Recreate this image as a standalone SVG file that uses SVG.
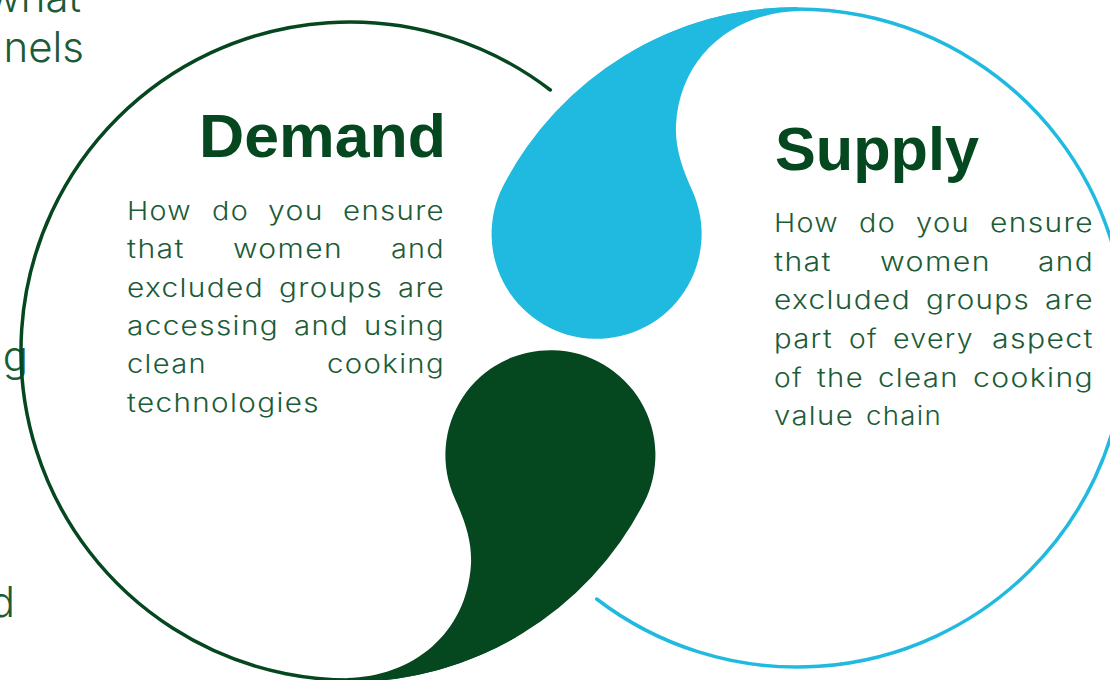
<svg xmlns="http://www.w3.org/2000/svg" width="1110" height="680" viewBox="0 0 1110 680">
  <style>
    .body { font-family: Inter, "Liberation Sans", sans-serif; font-weight: 300; font-size: 26px; letter-spacing: 1.2px; fill: #1b5c37; }
    .side { font-family: Inter, "Liberation Sans", sans-serif; font-weight: 300; font-size: 42px; fill: #1b5c37; }
    .title { font-family: "Liberation Sans", Arial, sans-serif; font-weight: 700; font-size: 62px; fill: #05471f; }
    .ring { fill: none; stroke-width: 3.5; stroke-linecap: round; }
    .ring-blue { stroke: #20bae0; }
    .ring-green { stroke: #05471f; }
    .drop-blue { fill: #20bae0; }
    .drop-green { fill: #05471f; }
  </style>
  <defs>
    <!-- open ring: starts low-left, runs round the bottom, right and top, ends under the drop tail -->
    <path id="ring" d="M 596.7 599 A 329 329 0 1 0 632.5 53.1"/>
    <!-- drop: tail follows the ring outward, bulb at the lower end, S-curve back to the top -->
    <path id="drop" d="M 797 7 A 331 331 0 0 0 503.3 185.7 A 105 105 0 1 0 692 190 C 682 168 675 148 676 125 C 680 55 735 12 800 11 Z"/>
  </defs>

  <!-- paragraph fragments running in from the left edge -->
  <g id="side-text">
    <text class="side" x="81" y="12" text-anchor="end">what</text>
    <text class="side" x="84" y="62" text-anchor="end">nels</text>
    <text class="side" x="28" y="371" text-anchor="end">ng</text>
    <text class="side" x="15" y="617" text-anchor="end">d</text>
  </g>

  <g id="supply">
    <use href="#ring" class="ring ring-blue"/>
    <use href="#drop" class="drop-blue"/>
    <text class="title" x="775" y="170" textLength="204" lengthAdjust="spacingAndGlyphs">Supply</text>
    <g class="body">
      <text x="774" y="232" textLength="65" lengthAdjust="spacingAndGlyphs">How</text>
      <text x="859" y="232" textLength="37" lengthAdjust="spacingAndGlyphs">do</text>
      <text x="916" y="232" textLength="54" lengthAdjust="spacingAndGlyphs">you</text>
      <text x="990" y="232" textLength="104" lengthAdjust="spacingAndGlyphs">ensure</text>
      <text x="774" y="271" textLength="58" lengthAdjust="spacingAndGlyphs">that</text>
      <text x="880" y="271" textLength="111" lengthAdjust="spacingAndGlyphs">women</text>
      <text x="1038" y="271" textLength="56" lengthAdjust="spacingAndGlyphs">and</text>
      <text x="774" y="309" textLength="137" lengthAdjust="spacingAndGlyphs">excluded</text>
      <text x="926" y="309" textLength="104" lengthAdjust="spacingAndGlyphs">groups</text>
      <text x="1045" y="309" textLength="49" lengthAdjust="spacingAndGlyphs">are</text>
      <text x="774" y="348" textLength="59" lengthAdjust="spacingAndGlyphs">part</text>
      <text x="849" y="348" textLength="29" lengthAdjust="spacingAndGlyphs">of</text>
      <text x="893" y="348" textLength="81" lengthAdjust="spacingAndGlyphs">every</text>
      <text x="992" y="348" textLength="102" lengthAdjust="spacingAndGlyphs">aspect</text>
      <text x="774" y="387" textLength="29" lengthAdjust="spacingAndGlyphs">of</text>
      <text x="817" y="387" textLength="47" lengthAdjust="spacingAndGlyphs">the</text>
      <text x="878" y="387" textLength="81" lengthAdjust="spacingAndGlyphs">clean</text>
      <text x="973" y="387" textLength="121" lengthAdjust="spacingAndGlyphs">cooking</text>
      <text x="774" y="425" textLength="80" lengthAdjust="spacingAndGlyphs">value</text>
      <text x="866" y="425" textLength="76" lengthAdjust="spacingAndGlyphs">chain</text>
    </g>
  </g>

  <g id="demand">
    <g transform="rotate(180 573.5 344.5)">
      <use href="#ring" class="ring ring-green"/>
      <use href="#drop" class="drop-green"/>
    </g>
    <text class="title" x="199" y="157" textLength="247" lengthAdjust="spacingAndGlyphs">Demand</text>
    <g class="body">
      <text x="127" y="220" textLength="65" lengthAdjust="spacingAndGlyphs">How</text>
      <text x="212" y="220" textLength="37" lengthAdjust="spacingAndGlyphs">do</text>
      <text x="268" y="220" textLength="56" lengthAdjust="spacingAndGlyphs">you</text>
      <text x="343" y="220" textLength="102" lengthAdjust="spacingAndGlyphs">ensure</text>
      <text x="127" y="258" textLength="58" lengthAdjust="spacingAndGlyphs">that</text>
      <text x="233" y="258" textLength="110" lengthAdjust="spacingAndGlyphs">women</text>
      <text x="391" y="258" textLength="54" lengthAdjust="spacingAndGlyphs">and</text>
      <text x="127" y="297" textLength="137" lengthAdjust="spacingAndGlyphs">excluded</text>
      <text x="279" y="297" textLength="104" lengthAdjust="spacingAndGlyphs">groups</text>
      <text x="398" y="297" textLength="47" lengthAdjust="spacingAndGlyphs">are</text>
      <text x="127" y="335" textLength="152" lengthAdjust="spacingAndGlyphs">accessing</text>
      <text x="294" y="335" textLength="55" lengthAdjust="spacingAndGlyphs">and</text>
      <text x="364" y="335" textLength="81" lengthAdjust="spacingAndGlyphs">using</text>
      <text x="127" y="373" textLength="80" lengthAdjust="spacingAndGlyphs">clean</text>
      <text x="327" y="373" textLength="118" lengthAdjust="spacingAndGlyphs">cooking</text>
      <text x="127" y="412" textLength="193" lengthAdjust="spacingAndGlyphs">technologies</text>
    </g>
  </g>
</svg>
